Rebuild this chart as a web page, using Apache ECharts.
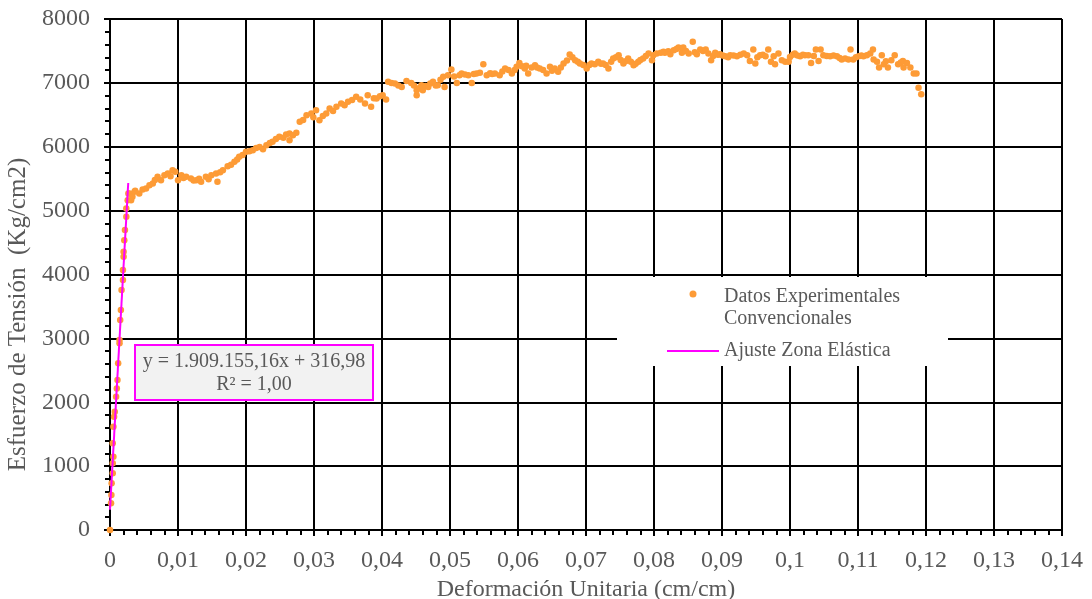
<!DOCTYPE html>
<html>
<head>
<meta charset="utf-8">
<script src="https://cdn.jsdelivr.net/npm/echarts@6/dist/echarts.min.js"></script>
<style>
  html, body { margin: 0; padding: 0; background: #fff; }
  #chart { width: 1092px; height: 599px; }
</style>
</head>
<body>
<div id="chart"></div>
<script>
// Deformación unitaria (cm/cm) de cada punto experimental
const strain = [
  0, 0.00015, 0.0002, 0.00024, 0.0004, 0.0004, 0.0005, 0.0004, 0.0005, 0.0006, 0.0007, 0.0009, 0.0010, 0.0011, 0.0012,
  0.0014, 0.0014, 0.0015, 0.0016, 0.0017, 0.0019, 0.0019, 0.0020, 0.0020, 0.0021, 0.0022, 0.0024, 0.0024, 0.0026, 0.0027,
  0.00285, 0.0031, 0.0033, 0.0036, 0.0037, 0.0043, 0.0048, 0.0053, 0.0058, 0.0063, 0.0066, 0.0070, 0.0075, 0.0080, 0.0085,
  0.0089, 0.0092, 0.0096, 0.0100, 0.0105, 0.0108, 0.0112, 0.0119, 0.0123, 0.0127, 0.0131, 0.0134, 0.0141, 0.0145, 0.0149,
  0.0156, 0.0158, 0.0162, 0.0166, 0.0173, 0.0178, 0.0183, 0.0187, 0.0190, 0.0195, 0.0200,
  0.0205, 0.0210, 0.0215, 0.0220, 0.0225, 0.0230, 0.0235, 0.0239, 0.0244, 0.0249, 0.0255, 0.0259, 0.0264, 0.0264, 0.0269,
  0.0274, 0.0279, 0.0284, 0.0289, 0.0296, 0.0299, 0.0303, 0.0308, 0.0313, 0.0318, 0.0323, 0.0328, 0.0333, 0.0340, 0.0345,
  0.0350, 0.0356, 0.0362, 0.0368, 0.0375, 0.0379, 0.0384, 0.0388, 0.0392, 0.0397,
  0.0401, 0.0406, 0.0409, 0.0414, 0.0419, 0.0424, 0.0429, 0.0436, 0.0443, 0.0447, 0.0451, 0.0451, 0.0455, 0.0458, 0.0460,
  0.0464, 0.0468, 0.0471, 0.0475, 0.0479, 0.0482, 0.0486, 0.0490, 0.0492, 0.0497, 0.0502, 0.0506, 0.0510, 0.0514, 0.0517,
  0.0522, 0.0527, 0.0532, 0.0535, 0.0539, 0.0544, 0.0549, 0.0554, 0.0559, 0.0562, 0.0566, 0.0573, 0.0577, 0.0581, 0.0586,
  0.0591, 0.0595, 0.0598, 0.0602, 0.0606,
  0.0610, 0.0612, 0.0615, 0.0620, 0.0625, 0.0628, 0.0632, 0.0637, 0.0642, 0.0647, 0.0650, 0.0654, 0.0659, 0.0663, 0.0667,
  0.0672, 0.0676, 0.0680, 0.0684, 0.0688, 0.0691, 0.0696, 0.0701, 0.0705, 0.0708, 0.0713, 0.0718, 0.0722, 0.0725, 0.0729,
  0.0733, 0.0737, 0.0740, 0.0744, 0.0748, 0.0751, 0.0755, 0.0758, 0.0762, 0.0766, 0.0770, 0.0773, 0.0777, 0.0780, 0.0784,
  0.0788, 0.0792, 0.0797,
  0.0799, 0.0804, 0.0810, 0.0814, 0.0816, 0.0821, 0.0824, 0.0829, 0.0833, 0.0836, 0.0841, 0.0843, 0.0847, 0.0851, 0.0857,
  0.0860, 0.0863, 0.0868, 0.0872, 0.0876, 0.0880, 0.0884, 0.0887, 0.0890, 0.0894, 0.0897, 0.0901, 0.0905, 0.0909, 0.0912,
  0.0917, 0.0922, 0.0927, 0.0932, 0.0937, 0.0941, 0.0946, 0.0949, 0.0952, 0.0956, 0.0960, 0.0964, 0.0968, 0.0972, 0.0976,
  0.0978, 0.0983, 0.0988, 0.0993, 0.0998, 0.1000, 0.1004, 0.1007, 0.1011, 0.1015, 0.1019, 0.1022, 0.1027, 0.1031, 0.1035,
  0.1038, 0.1042, 0.1045, 0.1049, 0.1054, 0.1059, 0.1064, 0.1069, 0.1073, 0.1076, 0.1081, 0.1086, 0.1089, 0.1093, 0.1097,
  0.1101, 0.1105, 0.1108, 0.1113, 0.1118, 0.1122, 0.1123, 0.1128, 0.1131, 0.1135, 0.1138, 0.1141, 0.1144, 0.1149, 0.1154,
  0.1159, 0.1163, 0.1166, 0.1167, 0.1172, 0.1177, 0.1182, 0.1186, 0.1189, 0.1193
];

// Esfuerzo de tensión (Kg/cm2), mismo orden que strain
const stress = [
  0, 418, 548, 731, 887, 1044, 1147, 1357, 1617, 1773, 1851, 2086, 2217, 2347, 2609,
  2922, 2973, 3286, 3443, 3756, 3912, 4069, 4277, 4355, 4538, 4695, 4903, 5034, 5164, 5269,
  5269, 5164, 5216, 5294, 5310, 5269, 5330, 5347, 5399, 5425, 5480, 5529, 5477, 5555, 5582,
  5540, 5634, 5610, 5477, 5555, 5510, 5529, 5503, 5470, 5477, 5500, 5451, 5529, 5490, 5555,
  5582, 5451, 5600, 5634, 5696, 5720, 5764, 5800, 5842, 5870, 5920,
  5930, 5947, 5980, 5998, 5960, 6025, 6060, 6077, 6120, 6155, 6140, 6190, 6208, 6103, 6180,
  6218, 6390, 6420, 6494, 6521, 6460, 6573, 6416, 6480, 6521, 6599, 6560, 6625, 6678, 6650,
  6703, 6730, 6781, 6740, 6678, 6807, 6625, 6760, 6756, 6790,
  6807, 6740, 7016, 7000, 6990, 6960, 6937, 7031, 7000, 6960, 6807, 6886, 6920, 6964, 6886,
  6950, 6937, 6990, 7016, 6960, 6964, 7050, 7094, 6937, 7120, 7210, 7100, 7000, 7120, 7147,
  7130, 7120, 7000, 7140, 7147, 7160, 7293, 7120, 7150, 7140, 7147, 7120, 7180, 7225, 7200,
  7147, 7200, 7251, 7313, 7260,
  7225, 7270, 7147, 7240, 7277, 7240, 7225, 7200, 7147, 7251, 7190, 7225, 7173, 7240, 7303,
  7350, 7444, 7400, 7355, 7330, 7303, 7280, 7225, 7280, 7303, 7290, 7329, 7300, 7303, 7280,
  7225, 7330, 7381, 7400, 7433, 7360, 7303, 7340, 7381, 7330, 7277, 7300, 7329, 7360, 7381,
  7420, 7460, 7355,
  7433, 7460, 7470, 7486, 7470, 7496, 7449, 7512, 7530, 7554, 7470, 7554, 7500, 7460, 7642,
  7480, 7449, 7522, 7500, 7522, 7460, 7355, 7420, 7470, 7440, 7449, 7430, 7418, 7400, 7433,
  7430, 7418, 7440, 7460, 7433, 7344, 7522, 7303, 7400, 7433, 7440, 7418, 7522, 7329, 7418,
  7293, 7460, 7355, 7329, 7329, 7407, 7440, 7460, 7430, 7418, 7440, 7433, 7433, 7313, 7420,
  7522, 7344, 7522, 7433, 7420, 7418, 7430, 7418, 7390, 7366, 7380, 7366, 7522, 7366, 7400,
  7418, 7430, 7418, 7433, 7460, 7522, 7366, 7329, 7241, 7433, 7293, 7340, 7241, 7355, 7433,
  7293, 7320, 7344, 7241, 7313, 7241, 7147, 7147, 6922, 6823
];

// Recta de ajuste de la zona elástica: y = 1.909.155,16x + 316,98
const fitStrain = [0, 0.00268];
const fitStress = [316.98, 5433.5];

const seriesNames = ['Datos Experimentales Convencionales', 'Ajuste Zona Elástica'];
const equationText = 'y = 1.909.155,16x + 316,98\nR² = 1,00';

const chart = echarts.init(document.getElementById('chart'));

const serif = '"Liberation Serif", "Times New Roman", serif';
const grey = '#595959';

const option = {
  animation: false,
  backgroundColor: '#fff',
  grid: { left: 110, right: 30, top: 19, bottom: 69, containLabel: false, outerBoundsMode: 'none' },
  xAxis: {
    type: 'value',
    min: 0,
    max: 0.14,
    interval: 0.01,
    name: 'Deformación Unitaria (cm/cm)',
    nameLocation: 'middle',
    nameGap: 43,
    nameTextStyle: { fontFamily: serif, fontSize: 24, color: grey },
    axisLine: { show: true, onZero: false, lineStyle: { color: '#000', width: 2 } },
    axisTick: { show: true, length: 6, lineStyle: { color: '#000', width: 2 } },
    minorTick: { show: true, splitNumber: 5, length: 5, lineStyle: { color: '#000', width: 2 } },
    axisLabel: {
      margin: 19,
      fontFamily: serif,
      fontSize: 24,
      color: grey,
      formatter: v => parseFloat(v.toFixed(2)).toString().replace('.', ',')
    },
    splitLine: { show: true, lineStyle: { color: '#000', width: 2 } }
  },
  yAxis: {
    type: 'value',
    min: 0,
    max: 8000,
    interval: 1000,
    name: 'Esfuerzo de Tensión  (Kg/cm2)',
    nameLocation: 'middle',
    nameGap: 73,
    nameTextStyle: { fontFamily: serif, fontSize: 25, color: grey, padding: [0, 80, 0, 0] },
    axisLine: { show: true, onZero: false, lineStyle: { color: '#000', width: 2 } },
    axisTick: { show: true, length: 6, lineStyle: { color: '#000', width: 2 } },
    minorTick: { show: true, splitNumber: 5, length: 5, lineStyle: { color: '#000', width: 2 } },
    axisLabel: { margin: 20, fontFamily: serif, fontSize: 24, color: grey, formatter: v => String(v) },
    splitLine: { show: true, lineStyle: { color: '#000', width: 2 } }
  },
  legend: {
    orient: 'vertical',
    left: 667,
    top: 258,
    padding: 0,
    itemWidth: 52,
    itemHeight: 7,
    itemGap: 12,
    z: 10,
    selectedMode: false,
    formatter: name => name === seriesNames[0]
      ? '{s| }\n{a|Datos Experimentales}\n{a|Convencionales}'
      : '{a|' + name + '}',
    textStyle: {
      fontFamily: serif,
      fontSize: 20,
      color: grey,
      rich: {
        s: { fontSize: 10, lineHeight: 28, height: 28 },
        a: { fontFamily: serif, fontSize: 20, color: grey, lineHeight: 22 }
      }
    },
    data: [
      { name: seriesNames[0], icon: 'circle' },
      { name: seriesNames[1], icon: 'path://M0,0L52,0L52,2L0,2Z' }
    ]
  },
  graphic: {
    elements: [
      {
        type: 'rect',
        z: 3,
        shape: { x: 617, y: 277, width: 331, height: 89 },
        style: { fill: '#fff' }
      },
      {
        type: 'rect',
        z: 20,
        shape: { x: 135, y: 345, width: 238, height: 55 },
        style: { fill: '#f2f2f2', stroke: '#ff00ff', lineWidth: 2 }
      },
      {
        type: 'text',
        z: 21,
        x: 254,
        y: 373,
        style: {
          text: equationText,
          font: '20px ' + serif,
          fill: grey,
          align: 'center',
          verticalAlign: 'middle',
          lineHeight: 23
        }
      }
    ]
  },
  series: [
    {
      name: seriesNames[0],
      type: 'scatter',
      symbol: 'circle',
      symbolSize: 6.5,
      itemStyle: { color: '#fd9b36', opacity: 1 },
      data: strain.map((x, i) => [x, stress[i]]),
      z: 2
    },
    {
      name: seriesNames[1],
      type: 'line',
      symbol: 'none',
      lineStyle: { color: '#ff00ff', width: 2 },
      itemStyle: { color: '#ff00ff' },
      data: fitStrain.map((x, i) => [x, fitStress[i]]),
      z: 3
    }
  ]
};

chart.setOption(option);
</script>
</body>
</html>
